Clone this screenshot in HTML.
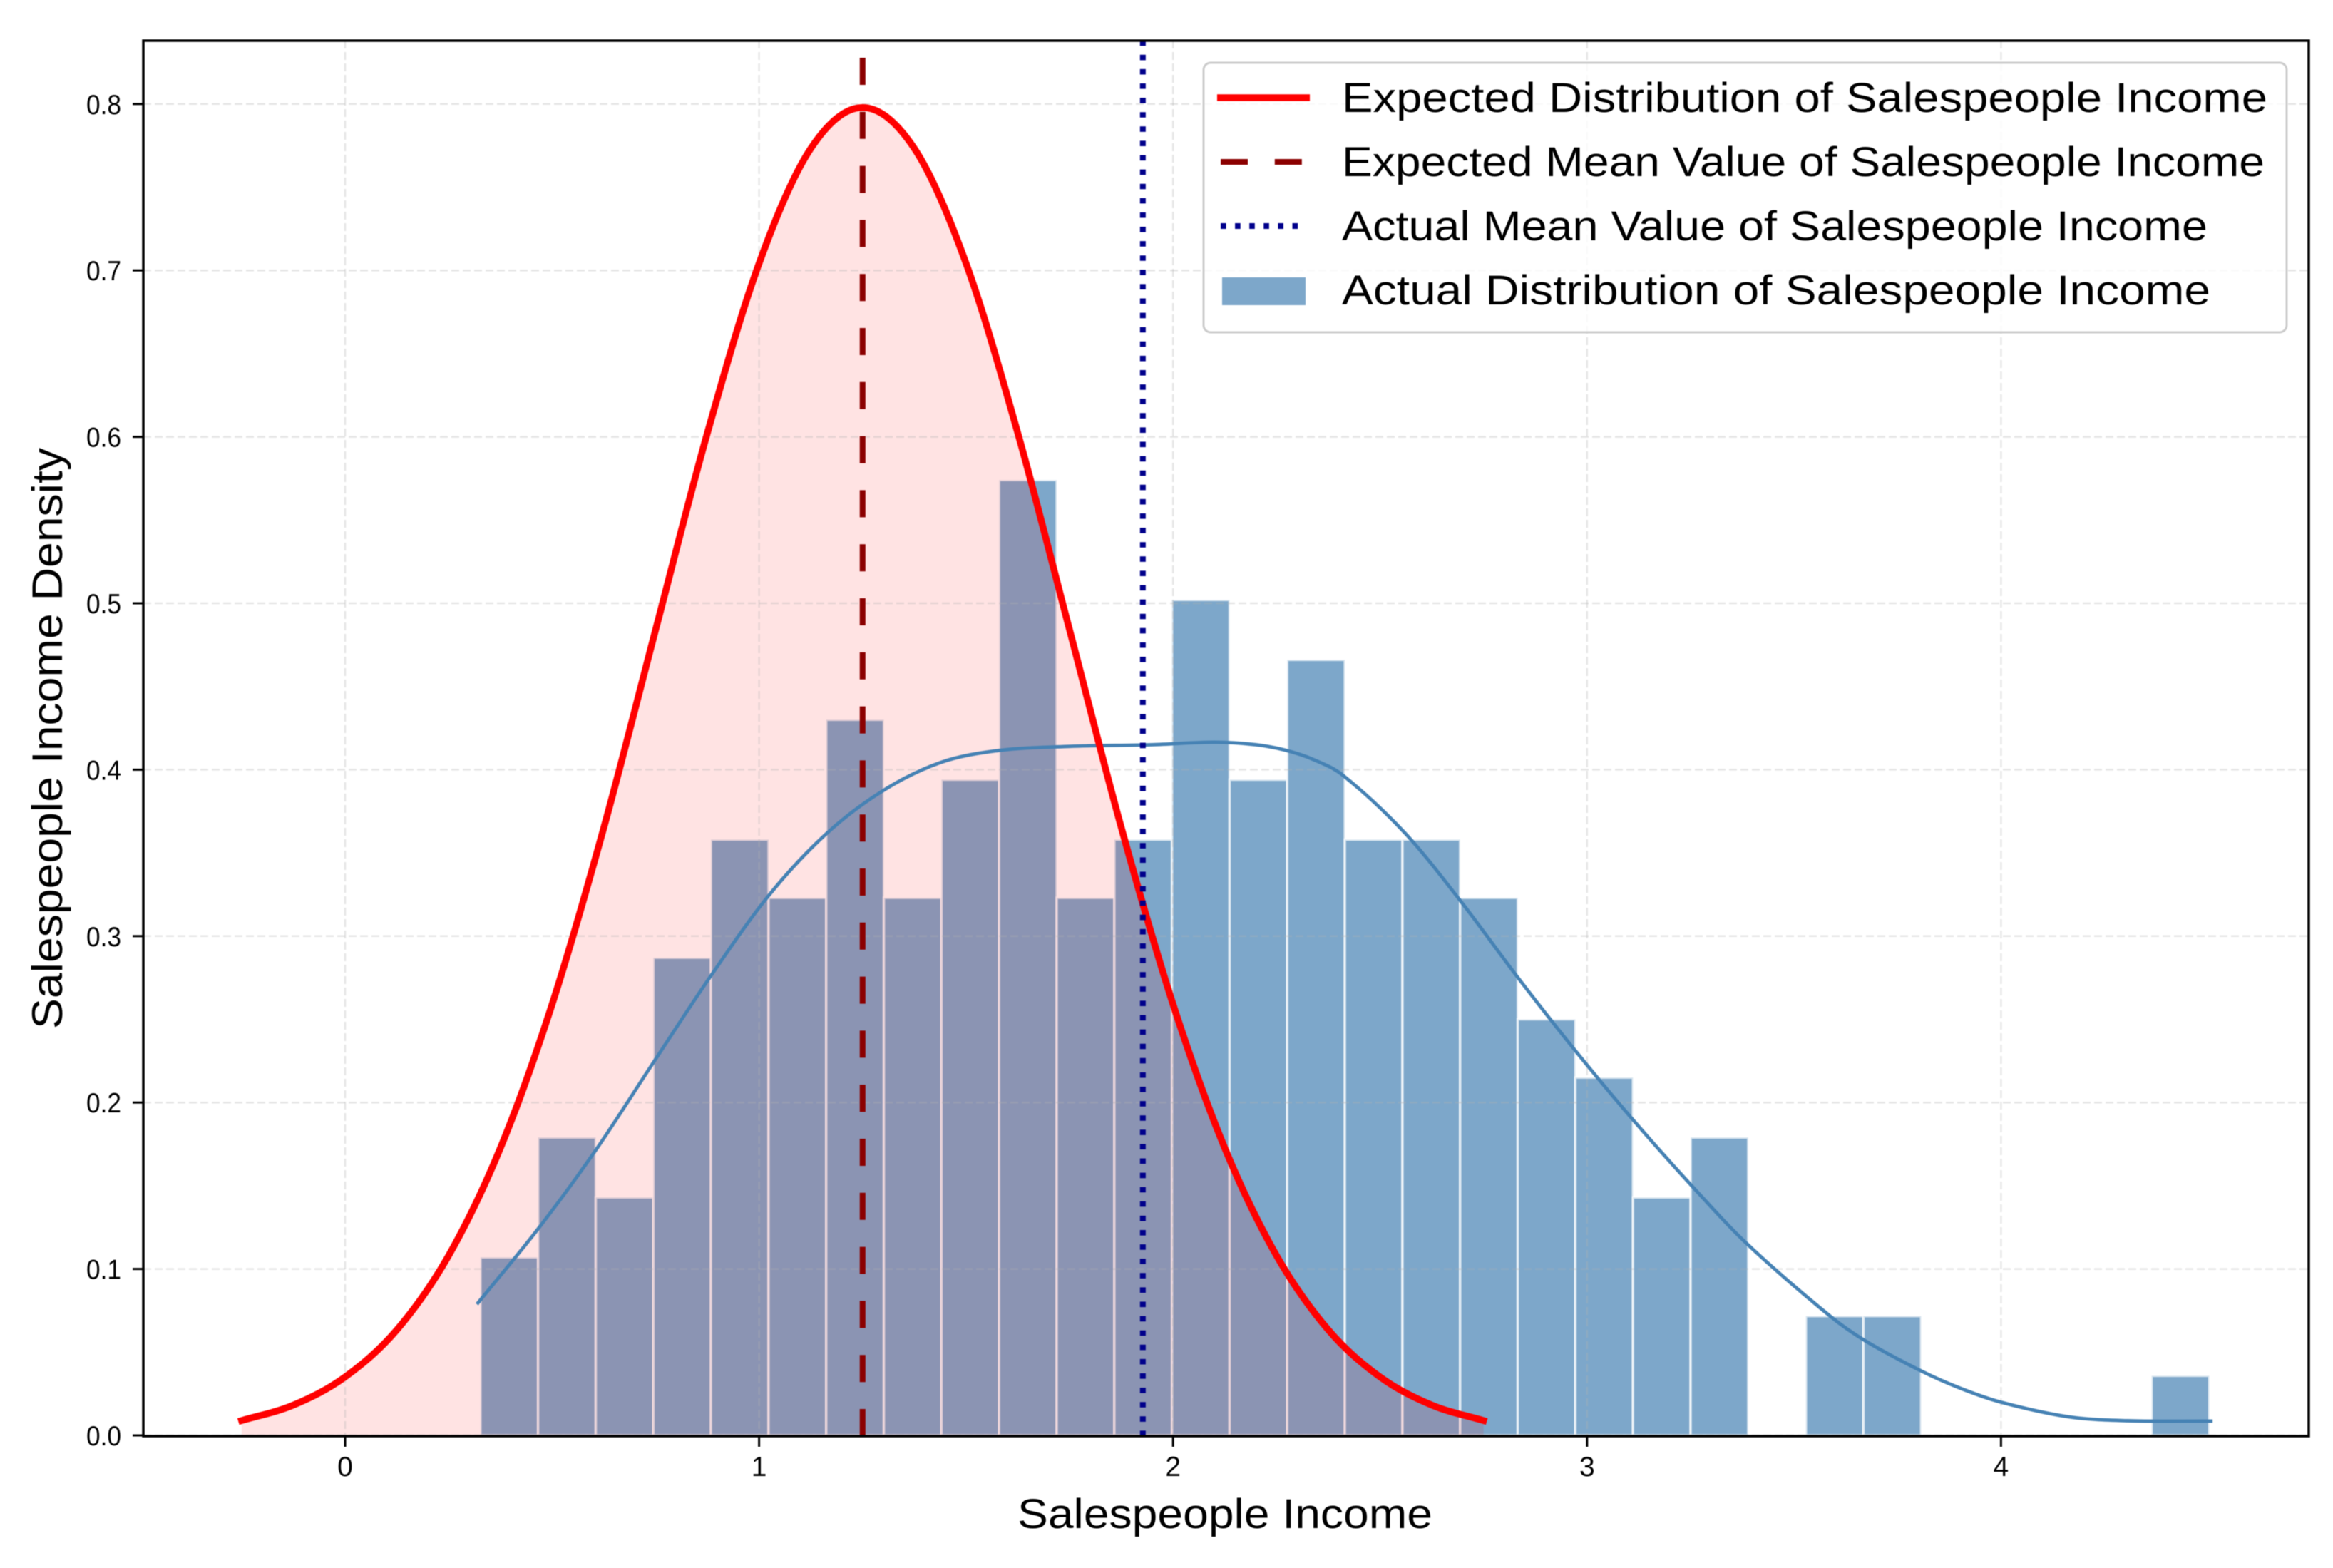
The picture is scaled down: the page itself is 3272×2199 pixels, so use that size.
<!DOCTYPE html>
<html lang="en">
<head>
<meta charset="utf-8">
<title>Salespeople Income Distribution</title>
<style>
  html, body { margin: 0; padding: 0; background: #fff; }
  body { width: 3272px; height: 2199px; overflow: hidden; }
  svg { display: block; filter: blur(0.6px); }
  text { font-family: "Liberation Sans", "Noto Sans CJK SC", sans-serif; fill: #000; }
</style>
</head>
<body>
<svg id="chart" width="3272" height="2199" viewBox="0 0 3272 2199" xmlns="http://www.w3.org/2000/svg">
  <rect x="0" y="0" width="3272" height="2199" fill="#fff"/>
  <g id="bars"></g>
  <g id="fill-layer"></g>
  <g id="grid"></g>
  <g id="curves"></g>
  <g id="means"></g>
  <rect x="201" y="57" width="3037" height="1957" fill="none" stroke="#000" stroke-width="3.5"/>
  <g id="ticks"></g>
  <text x="1427" y="2143" font-size="58" textLength="582" lengthAdjust="spacingAndGlyphs">Salespeople Income</text>
  <text transform="translate(87,1443) rotate(-90)" font-size="60" textLength="815" lengthAdjust="spacingAndGlyphs">Salespeople Income Density</text>
  <g>
    <rect x="1688" y="88" width="1519" height="378" rx="10" ry="10" fill="#fff" fill-opacity="0.8" stroke="#ccc" stroke-width="3"/>
    <line x1="1707" y1="137" x2="1837" y2="137" stroke="#f00" stroke-width="9.5"/>
    <line x1="1712" y1="227" x2="1827" y2="227" stroke="#8b0000" stroke-width="8" stroke-dasharray="38 37.8"/>
    <line x1="1712" y1="317" x2="1822" y2="317" stroke="#00008b" stroke-width="8" stroke-dasharray="7.6 12.5"/>
    <rect x="1714" y="389" width="117" height="39" fill="#4682b4" fill-opacity="0.7"/>
    <text x="1882" y="157" font-size="58" textLength="1298" lengthAdjust="spacingAndGlyphs">Expected Distribution of Salespeople Income</text>
    <text x="1882" y="247" font-size="58" textLength="1294" lengthAdjust="spacingAndGlyphs">Expected Mean Value of Salespeople Income</text>
    <text x="1882" y="337" font-size="58" textLength="1214" lengthAdjust="spacingAndGlyphs">Actual Mean Value of Salespeople Income</text>
    <text x="1882" y="427" font-size="58" textLength="1218" lengthAdjust="spacingAndGlyphs">Actual Distribution of Salespeople Income</text>
  </g>
</svg>
<script>
// Histogram: first bin edge, bin width and density per bin
const binStart = 0.327;
const binWidth = 0.1392;
const histDensity = [0.107, 0.179, 0.143, 0.287, 0.358, 0.323, 0.430, 0.323, 0.394, 0.574,
                     0.323, 0.358, 0.502, 0.394, 0.466, 0.358, 0.358, 0.323, 0.250, 0.215,
                     0.143, 0.179, 0, 0.0717, 0.0717, 0, 0, 0, 0, 0.0358];

// Actual distribution density curve
const kdeX = [0.321, 0.469, 0.603, 0.743, 0.884, 1.023, 1.161, 1.297, 1.437, 1.578, 1.75, 1.95, 2.1, 2.2, 2.27, 2.34, 2.411, 2.56, 2.696, 2.833, 2.969, 3.109, 3.254, 3.386, 3.587, 3.673, 3.808, 3.9, 3.999, 4.162, 4.306, 4.507];
const kdeY = [0.0796, 0.125, 0.1705, 0.2234, 0.2763, 0.3243, 0.3612, 0.387, 0.4042, 0.4115, 0.414, 0.415, 0.4165, 0.415, 0.4118, 0.406, 0.3965, 0.362, 0.3206, 0.2751, 0.232, 0.1902, 0.1497, 0.1152, 0.0717, 0.0567, 0.0386, 0.0285, 0.02, 0.0112, 0.0088, 0.0086];

// Expected distribution curve
const expX = [-0.25, -0.125, 0, 0.125, 0.25, 0.375, 0.5, 0.625, 0.75, 0.875, 1, 1.125, 1.25, 1.375, 1.5, 1.625, 1.75, 1.875, 2, 2.125, 2.25, 2.375, 2.5, 2.625, 2.75];
const expY = [0.0089, 0.0182, 0.0351, 0.0634, 0.108, 0.1726, 0.259, 0.3652, 0.484, 0.6022, 0.7042, 0.7733, 0.7979, 0.7733, 0.7042, 0.6022, 0.484, 0.3652, 0.259, 0.1726, 0.108, 0.0634, 0.0351, 0.0182, 0.0089];

// Mean values
const expectedMean = 1.25;
const actualMean = 1.927;

// Axis ticks
const xTicks = [0, 1, 2, 3, 4];
const xTickLabels = ['0', '1', '2', '3', '4'];
const yTicks = [0, 0.1, 0.2, 0.3, 0.4, 0.5, 0.6, 0.7, 0.8];
const yTickLabels = ['0.0', '0.1', '0.2', '0.3', '0.4', '0.5', '0.6', '0.7', '0.8'];

const SVGNS = 'http://www.w3.org/2000/svg';
const plot = { left: 201, right: 3238, top: 57, bottom: 2014 };
function xScale(v) { return 484 + v * 580.6; }
function yScale(v) { return 2013 - v * 2334; }

function make(tag, parentId, attrs) {
  const el = document.createElementNS(SVGNS, tag);
  Object.keys(attrs).forEach(function (k) { el.setAttribute(k, attrs[k]); });
  document.getElementById(parentId).appendChild(el);
  return el;
}

// Smooth path through the read points
function curvePath(xs, ys) {
  const px = xs.map(xScale);
  const py = ys.map(yScale);
  const n = px.length;
  const slope = function (i) {
    const a = Math.max(0, i - 1);
    const b = Math.min(n - 1, i + 1);
    return (py[b] - py[a]) / (px[b] - px[a]);
  };
  let d = 'M' + px[0].toFixed(2) + ' ' + py[0].toFixed(2);
  for (let i = 0; i < n - 1; i++) {
    const h = (px[i + 1] - px[i]) / 3;
    d += ' C' + (px[i] + h).toFixed(2) + ' ' + (py[i] + slope(i) * h).toFixed(2) +
         ' ' + (px[i + 1] - h).toFixed(2) + ' ' + (py[i + 1] - slope(i + 1) * h).toFixed(2) +
         ' ' + px[i + 1].toFixed(2) + ' ' + py[i + 1].toFixed(2);
  }
  return d;
}

// Bars
histDensity.forEach(function (v, i) {
  if (v <= 0) return;
  const x0 = xScale(binStart + i * binWidth);
  const x1 = xScale(binStart + (i + 1) * binWidth);
  const bar = make('rect', 'bars', {
    x: x0.toFixed(2), y: yScale(v).toFixed(2),
    width: (x1 - x0).toFixed(2), height: (yScale(0) - yScale(v)).toFixed(2),
    fill: '#4682b4', 'fill-opacity': 0.7,
    stroke: '#fff', 'stroke-opacity': 0.7, 'stroke-width': 3.5
  });
  
  
});

// Expected distribution fill (lies on top of the bars)
const expPath = curvePath(expX, expY);
const fillEl = make('path', 'fill-layer', {
  d: expPath + ' L' + xScale(expX[expX.length - 1]).toFixed(2) + ' ' + yScale(0) + ' L' + xScale(expX[0]).toFixed(2) + ' ' + yScale(0) + ' Z',
  fill: '#f00', 'fill-opacity': 0.11, stroke: 'none'
});



// Grid
xTicks.forEach(function (t) {
  const line = make('line', 'grid', {
    x1: xScale(t), x2: xScale(t), y1: plot.top, y2: plot.bottom,
    stroke: '#b0b0b0', 'stroke-opacity': 0.32, 'stroke-width': 2.5, 'stroke-dasharray': '11 5'
  });
  
  
});
yTicks.forEach(function (t) {
  const line = make('line', 'grid', {
    x1: plot.left, x2: plot.right, y1: yScale(t), y2: yScale(t),
    stroke: '#b0b0b0', 'stroke-opacity': 0.32, 'stroke-width': 2.5, 'stroke-dasharray': '11 5'
  });
  
  
});

// Curves
const kdeEl = make('path', 'curves', {
  d: curvePath(kdeX, kdeY), fill: 'none', stroke: '#4682b4', 'stroke-width': 4.8, 'stroke-linecap': 'square'
});



const expEl = make('path', 'curves', {
  d: expPath, fill: 'none', stroke: '#f00', 'stroke-width': 9.5, 'stroke-linecap': 'square'
});



// Mean lines, dash pattern running upward from the axis
const expMeanEl = make('line', 'means', {
  x1: xScale(expectedMean), x2: xScale(expectedMean), y1: yScale(0) + 1, y2: 81,
  stroke: '#8b0000', 'stroke-width': 8, 'stroke-dasharray': '38 37.8'
});



const actMeanEl = make('line', 'means', {
  x1: xScale(actualMean), x2: xScale(actualMean), y1: yScale(0) + 1, y2: plot.top,
  stroke: '#00008b', 'stroke-width': 8, 'stroke-dasharray': '7.6 12.5'
});



// Ticks and tick labels
xTicks.forEach(function (t, i) {
  const mark = make('line', 'ticks', {
    x1: xScale(t), x2: xScale(t), y1: plot.bottom, y2: plot.bottom + 15, stroke: '#000', 'stroke-width': 3
  });
  
  
  const label = make('text', 'ticks', { x: xScale(t), y: 2070, 'font-size': 39, 'text-anchor': 'middle' });
  label.textContent = xTickLabels[i];
  
  
});
yTicks.forEach(function (t, i) {
  const mark = make('line', 'ticks', {
    x1: plot.left - 15, x2: plot.left, y1: yScale(t), y2: yScale(t), stroke: '#000', 'stroke-width': 3
  });
  
  
  const label = make('text', 'ticks', {
    x: 121, y: yScale(t) + 14, 'font-size': 39, textLength: 49, lengthAdjust: 'spacingAndGlyphs'
  });
  label.textContent = yTickLabels[i];
  
  
});
</script>
</body>
</html>
